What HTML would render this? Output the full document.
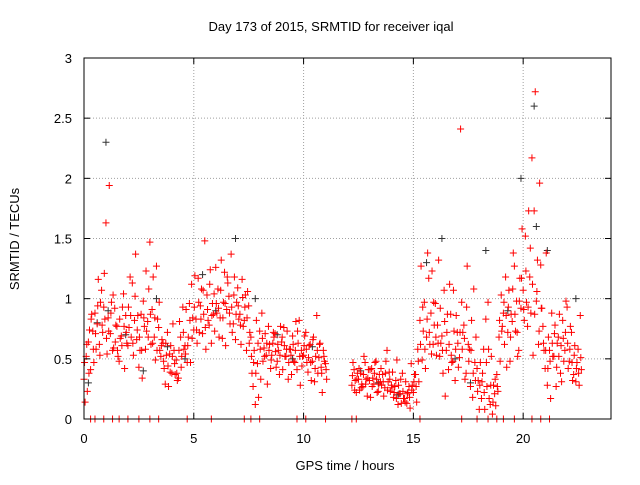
<!DOCTYPE html>
<html><head><meta charset="utf-8"><style>
html,body{margin:0;padding:0;background:#fff;}
svg text{font-family:"Liberation Sans",sans-serif;font-size:13px;fill:#000;}
</style></head><body>
<svg id="chart" width="640" height="480" xmlns="http://www.w3.org/2000/svg">
<rect x="0" y="0" width="640" height="480" fill="#fff"/>
<g id="grid"></g><g id="marks"></g><g id="axes"></g>
<text x="331" y="31" text-anchor="middle">Day 173 of 2015, SRMTID for receiver iqal</text>
<text x="345" y="470" text-anchor="middle">GPS time / hours</text>
<text x="19" y="239" text-anchor="middle" transform="rotate(-90 19 239)">SRMTID / TECUs</text>
</svg>
<script>
const xTicks=[0,5,10,15,20];
const yTicks=[0,0.5,1,1.5,2,2.5,3];
const yTickLabels=["0","0.5","1","1.5","2","2.5","3"];
const seg1Start=0.0, seg2Start=12.2, step=0.1;
const seg1A=[0.33,0.52,0.64,0.41,0.73,0.88,0.79,0.62,1.07,0.93,1.63,
0.84,0.71,0.57,0.92,0.77,0.48,0.69,1.04,0.86,0.61,
1.18,1.13,0.82,0.66,0.43,0.87,0.98,0.58,0.81,1.47,
0.91,0.68,1.27,0.76,0.52,0.63,0.29,0.72,0.54,0.38,
0.57,0.49,0.34,0.68,0.93,0.61,0.47,0.96,1.12,0.74,
0.83,1.17,0.94,0.71,1.48,1.03,0.78,0.63,0.87,1.26,
1.08,0.84,0.67,1.22,0.91,1.02,1.37,0.79,0.66,1.09,
0.87,1.16,0.82,0.57,0.94,0.68,0.27,0.12,0.46,0.73,
0.88,0.59,0.53,0.77,0.42,0.63,0.71,0.48,0.37,0.64,
0.76,0.52,0.33,0.58,0.69,0.47,0.41,0.82,0.57,0.53,
0.72,0.39,0.62,0.48,0.31,0.86,0.51,0.43,0.57,0.46];
const seg1B=[0.14,0.23,0.74,0.87,0.47,0.58,1.16,0.97,0.72,0.83,0.54,
1.94,0.97,0.59,0.78,0.52,0.67,0.93,0.42,0.63,0.76,
0.68,0.53,1.37,0.86,0.57,0.34,0.77,0.73,1.08,0.62,
1.18,0.49,0.83,0.57,0.66,0.42,0.53,0.27,0.61,0.79,
0.37,0.32,0.81,0.52,0.58,0.91,0.68,0.47,0.84,1.19,
0.63,0.72,1.08,0.87,0.58,0.82,1.24,0.96,0.73,0.88,
0.68,1.32,0.97,0.61,1.13,0.79,0.72,1.18,0.97,0.83,
0.62,0.77,1.03,1.06,0.72,0.38,0.57,0.82,0.18,0.33,
0.48,0.71,0.29,0.62,0.53,0.68,0.43,0.57,0.77,0.41,
0.52,0.73,0.58,0.37,0.48,0.81,0.63,0.28,0.52,0.69,
0.47,0.61,0.32,0.68,0.52,0.38,0.63,0.22,0.48,0.33];
const seg1C=[0.47,0.62,0.38,0.83,0.58,0.71,0.94,0.53,0.78,1.21,0.67,
0.73,0.88,1.03,0.64,0.57,0.83,0.61,0.77,0.72,0.93,
0.86,0.63,1.02,0.74,0.68,0.57,0.84,1.23,0.68,0.87,
0.63,0.84,0.57,0.97,0.61,0.48,0.63,0.44,0.39,0.52,
0.46,0.38,0.57,0.43,0.72,0.54,0.61,0.82,0.67,0.93,
0.74,0.97,0.83,1.07,0.76,0.91,1.12,0.86,1.04,0.96,
0.92,1.07,0.84,0.96,1.18,0.88,0.93,1.03,0.87,0.94,
0.78,1.01,0.93,0.84,0.63,0.52,0.47,0.38,0.63,0.58,
0.67,0.52,0.63,0.57,0.49,0.72,0.56,0.62,0.53,0.68,
0.61,0.58,0.47,0.53,0.62,0.57,0.73,0.52,0.44,0.61,
0.58,0.51,0.47,0.66,0.42,0.57,0.62,0.38,0.52,0.41];
const seg2A=[0.28,0.41,0.22,0.33,0.38,0.27,0.47,0.19,0.32,
0.42,0.29,0.48,0.23,0.31,0.37,0.26,0.57,0.39,0.28,
0.18,0.32,0.12,0.21,0.38,0.17,0.13,0.27,0.46,0.22,
0.37,0.58,0.82,0.49,0.97,0.68,1.17,0.88,0.62,0.96,
0.78,0.52,0.69,1.07,0.57,0.41,0.87,0.48,0.32,0.72,
0.51,0.97,0.78,0.38,0.62,0.27,0.18,0.47,0.42,0.08,
0.17,0.58,0.83,0.97,0.12,0.04,0.21,0.37,0.68,1.03,
0.88,1.18,0.72,0.48,0.81,1.27,0.98,0.57,0.92,1.07,
1.52,0.77,1.18,2.17,1.73,0.98,0.62,1.28,0.77,0.42,
0.28,0.57,0.88,0.52,0.27,0.68,0.38,0.82,0.57,0.93,
0.48,0.72,0.37,0.31,0.58,0.86];
const seg2B=[0.47,0.32,0.38,0.24,0.29,0.52,0.33,0.41,0.18,
0.34,0.47,0.22,0.37,0.28,0.19,0.48,0.31,0.23,0.39,
0.27,0.49,0.21,0.13,0.17,0.31,0.22,0.09,0.28,0.37,
0.14,0.31,1.27,0.73,0.42,1.38,0.62,1.23,0.78,0.53,
1.32,0.63,0.38,0.19,0.87,1.12,0.47,0.73,0.86,0.43,
2.41,0.72,0.33,1.27,0.58,0.82,1.08,0.68,0.32,0.47,
0.38,0.08,0.27,0.17,0.52,0.28,0.11,0.23,0.48,0.77,
0.62,0.43,1.07,0.87,1.38,0.73,0.52,1.17,1.58,0.82,
0.97,1.73,0.88,0.53,2.72,1.32,1.96,0.92,0.57,1.38,
0.68,0.17,0.52,0.78,0.63,0.87,0.31,0.48,0.98,0.42,
0.77,0.32,0.61,0.47,0.28,0.41];
const seg2C=[0.36,0.24,0.33,0.42,0.26,0.37,0.29,0.34,0.41,
0.27,0.38,0.33,0.29,0.42,0.31,0.38,0.24,0.33,0.26,
0.22,0.17,0.28,0.33,0.23,0.14,0.21,0.18,0.24,0.31,
0.27,0.48,0.62,0.93,0.58,0.83,0.72,0.54,0.97,0.68,
0.63,0.92,0.57,0.81,0.72,0.62,0.53,1.07,0.58,0.63,
0.72,0.58,0.67,0.93,0.48,0.57,0.38,0.32,0.23,0.28,
0.31,0.22,0.47,0.58,0.28,0.14,0.33,0.27,0.82,0.73,
0.97,0.86,0.93,0.68,1.08,0.87,0.72,0.98,1.17,0.91,
1.23,0.93,1.42,1.12,0.87,1.06,0.73,0.92,0.63,0.57,
0.42,0.48,0.63,0.71,0.43,0.52,0.61,0.67,0.72,0.63,
0.58,0.47,0.53,0.42,0.38,0.51];
const zeroTimes=[0.3,0.5,0.9,1.3,1.6,2.0,2.5,3.0,3.4,4.7,5.8,7.3,7.6,8.0,9.7,10.1,11.0,12.2,12.4,15.3,17.2,17.9,18.4,18.8,19.1,19.6,20.4,20.8,21.2];
const blackTimes=[0.2,0.6,1.0,1.1,1.9,2.7,3.3,3.8,4.6,5.4,6.0,6.9,7.8,8.8,9.5,10.4,12.6,13.4,14.3,15.6,16.3,16.9,17.6,18.3,19.3,19.9,20.5,20.6,21.1,22.4];
const blackValues=[0.3,0.8,2.3,0.9,0.7,0.4,1.0,0.6,0.5,1.2,0.9,1.5,1.0,0.7,0.5,0.6,0.4,0.3,0.2,1.3,1.5,0.5,0.3,1.4,0.9,2.0,2.6,1.6,1.4,1.0];

const L=84,R=611,T=58,B=419;
const xS=v=>L+(v/24)*(R-L);
const yS=v=>B-(v/3)*(B-T);
const NS="http://www.w3.org/2000/svg";
function mk(tag,parent){const e=document.createElementNS(NS,tag);parent.appendChild(e);return e;}
const grid=document.getElementById('grid'),marks=document.getElementById('marks'),axes=document.getElementById('axes');
xTicks.forEach(t=>{
  const x=xS(t);
  if(t>0){const g=mk('line',grid);g.setAttribute('x1',x);g.setAttribute('x2',x);g.setAttribute('y1',T);g.setAttribute('y2',B);g.setAttribute('stroke','#a0a0a0');g.setAttribute('stroke-dasharray','1,2');
  
  }
  [[B,B-6],[T,T+6]].forEach(p=>{const k=mk('line',axes);k.setAttribute('x1',x);k.setAttribute('x2',x);k.setAttribute('y1',p[0]);k.setAttribute('y2',p[1]);k.setAttribute('stroke','#000');
  
  });
  const lb=mk('text',axes);lb.setAttribute('x',x);lb.setAttribute('y',443);lb.setAttribute('text-anchor','middle');lb.textContent=String(t);
  
  
});
yTicks.forEach((t,i)=>{
  const y=yS(t);
  if(t>0&&t<3){const g=mk('line',grid);g.setAttribute('x1',L);g.setAttribute('x2',R);g.setAttribute('y1',y);g.setAttribute('y2',y);g.setAttribute('stroke','#a0a0a0');g.setAttribute('stroke-dasharray','1,2');
  
  }
  [[L,L+6],[R,R-6]].forEach(p=>{const k=mk('line',axes);k.setAttribute('x1',p[0]);k.setAttribute('x2',p[1]);k.setAttribute('y1',y);k.setAttribute('y2',y);k.setAttribute('stroke','#000');
  
  });
  const lb=mk('text',axes);lb.setAttribute('x',72);lb.setAttribute('y',y+5);lb.setAttribute('text-anchor','end');lb.textContent=yTickLabels[i];
  
  
});
const fr=mk('rect',axes);fr.setAttribute('x',L);fr.setAttribute('y',T);fr.setAttribute('width',R-L);fr.setAttribute('height',B-T);fr.setAttribute('fill','none');fr.setAttribute('stroke','#000');


function plus(t,v,color){
  const x=xS(t),y=yS(v);
  const p=mk('path',marks);
  p.setAttribute('d',`M${x-3.5},${y}h7M${x},${y-3.5}v7`);
  p.setAttribute('stroke',color);p.setAttribute('fill','none');
  
  
}
blackTimes.forEach((t,i)=>plus(t,blackValues[i],'#333'));
seg1A.forEach((v,i)=>plus(seg1Start+i*step,v,'#ff0000'));
seg1B.forEach((v,i)=>plus(seg1Start+i*step+0.05,v,'#ff0000'));
seg1C.forEach((v,i)=>plus(seg1Start+i*step+0.025,v,'#ff0000'));
seg2A.forEach((v,i)=>plus(seg2Start+i*step,v,'#ff0000'));
seg2B.forEach((v,i)=>plus(seg2Start+i*step+0.05,v,'#ff0000'));
seg2C.forEach((v,i)=>plus(seg2Start+i*step+0.025,v,'#ff0000'));
zeroTimes.forEach(t=>plus(t,0,'#ff0000'));
</script>
</body></html>
